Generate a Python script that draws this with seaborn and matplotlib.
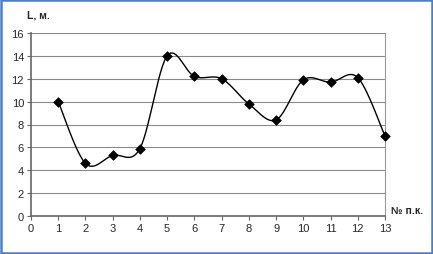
import matplotlib.pyplot as plt
import seaborn as sns
import numpy as np
import pandas as pd
from matplotlib.patches import Rectangle

pickets = [1, 2, 3, 4, 5, 6, 7, 8, 9, 10, 11, 12, 13]
lengths = [10, 4.6, 5.3, 5.9, 14, 12.2, 12, 9.8, 8.4, 11.9, 11.7, 12.1, 7]


def smooth(x, y, n=30):
    # Excel-like smoothed line: cubic Bezier with Catmull-Rom control points
    x = np.asarray(x, float)
    y = np.asarray(y, float)
    px = np.concatenate([[x[0]], x, [x[-1]]])
    py = np.concatenate([[y[0]], y, [y[-1]]])
    xs, ys = [], []
    t = np.linspace(0, 1, n)
    for i in range(1, len(px) - 2):
        p0 = np.array([px[i], py[i]])
        p3 = np.array([px[i + 1], py[i + 1]])
        p1 = p0 + (np.array([px[i + 1], py[i + 1]]) - np.array([px[i - 1], py[i - 1]])) / 6
        p2 = p3 - (np.array([px[i + 2], py[i + 2]]) - np.array([px[i], py[i]])) / 6
        b = ((1 - t) ** 3)[:, None] * p0 + (3 * (1 - t) ** 2 * t)[:, None] * p1 \
            + (3 * (1 - t) * t ** 2)[:, None] * p2 + (t ** 3)[:, None] * p3
        xs.extend(b[:, 0])
        ys.extend(b[:, 1])
    return np.array(xs), np.array(ys)


sx, sy = smooth(pickets, lengths)
curve = pd.DataFrame({'x': sx, 'y': sy, 'order': np.arange(len(sx))})
points = pd.DataFrame({'x': pickets, 'y': lengths})

sns.set_style('white')
plt.rcParams['font.family'] = ['Liberation Sans', 'DejaVu Sans']

fig = plt.figure(figsize=(4.33, 2.55), dpi=100)
ax = fig.add_axes([31 / 433, 1 - 217 / 255, (385 - 31) / 433, (217 - 34) / 255])

sns.lineplot(data=curve, x='x', y='y', sort=False, color='black', linewidth=1.0, ax=ax)
sns.scatterplot(data=points, x='x', y='y', marker='D', color='black', s=24,
                edgecolor='black', linewidth=0.5, zorder=5, clip_on=False, ax=ax)

ax.set_xlim(0, 13)
ax.set_ylim(0, 16)
ax.set_xticks(range(0, 14))
ax.set_yticks(range(0, 17, 2))
ax.set_xlabel('')
ax.set_ylabel('')
ax.grid(axis='y', color='#8a8a8a', linewidth=0.8)
ax.grid(axis='x', visible=False)
ax.spines['top'].set_visible(False)
ax.spines['right'].set_color('#999999')
ax.spines['right'].set_linewidth(0.8)
ax.spines['left'].set_color('#666666')
ax.spines['left'].set_linewidth(1.2)
ax.spines['bottom'].set_color('#666666')
ax.spines['bottom'].set_linewidth(1.2)
ax.tick_params(axis='both', which='both', length=3, width=0.8, color='#666666',
               labelsize=8, pad=2, bottom=True, left=True)

fig.text(27 / 433, 1 - 16 / 255, 'L, м.', fontsize=7.5, fontweight='bold',
         ha='left', va='center')
fig.text(391 / 433, 1 - 211 / 255, '№ п.к.', fontsize=7.5, fontweight='bold',
         ha='left', va='center')

fig.patches.append(Rectangle((0.003, 0.005), 0.994, 0.99, transform=fig.transFigure,
                             fill=False, edgecolor='#4f7fbf', linewidth=1.8))

fig.savefig('out.png', dpi=100)
